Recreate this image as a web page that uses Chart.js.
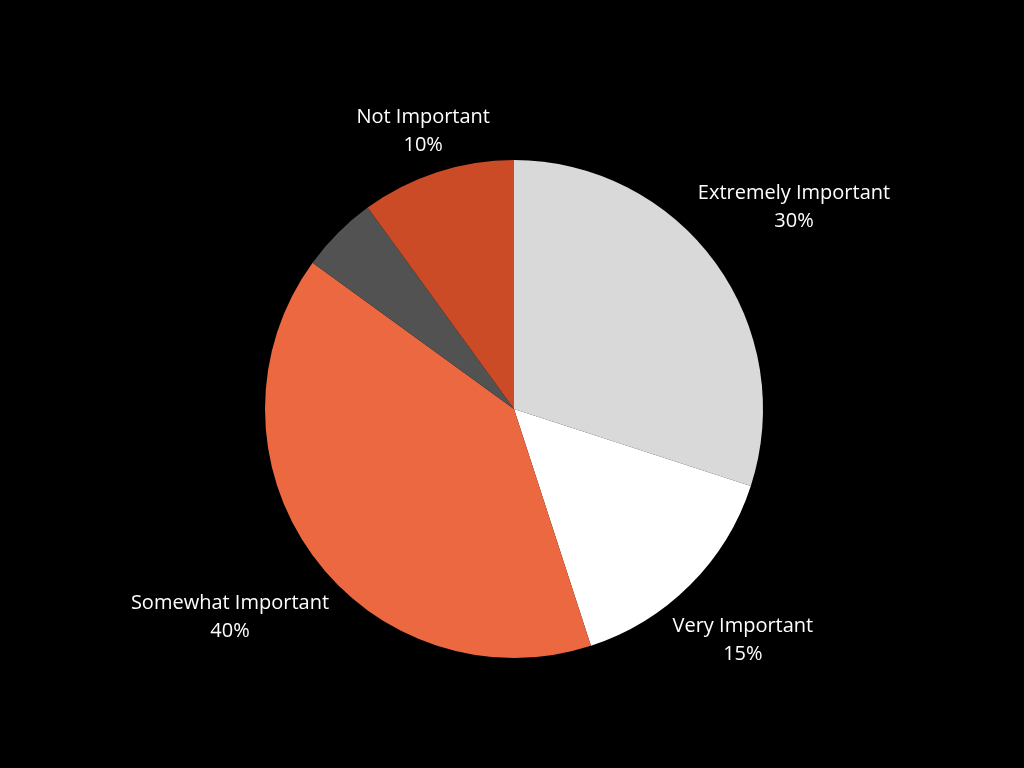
<!DOCTYPE html>
<html>
<head>
<meta charset="utf-8">
<script src="https://cdn.jsdelivr.net/npm/chart.js@4"></script>
<style>
  html, body { margin: 0; padding: 0; background: #000; }
  #wrap { width: 1024px; height: 768px; }
</style>
</head>
<body>
<div id="wrap"><canvas id="myChart" width="1024" height="768"></canvas></div>
<script>
const categories = ["Extremely Important", "Very Important", "Somewhat Important", "", "Not Important"];
const values = [30, 15, 40, 5, 10];
const colors = ["#d9d9d9", "#ffffff", "#ec6840", "#525252", "#cc4b27"];
// how far out each label sits, as a multiple of the pie radius
const labelDist = [1.39, 1.30, 1.41, 0, 1.18];

const outsideLabels = {
  id: "outsideLabels",
  afterDraw(chart) {
    const c = chart.ctx;
    const meta = chart.getDatasetMeta(0);
    const total = values.reduce((a, b) => a + b, 0);
    c.save();
    c.fillStyle = "#ffffff";
    c.font = "20px 'Open Sans'";
    c.textAlign = "center";
    c.textBaseline = "middle";
    meta.data.forEach((arc, i) => {
      if (!categories[i]) return;
      const mid = (arc.startAngle + arc.endAngle) / 2;
      const d = arc.outerRadius * labelDist[i];
      const x = arc.x + Math.cos(mid) * d;
      const y = arc.y + Math.sin(mid) * d;
      const pct = Math.round(values[i] / total * 100) + "%";
      c.fillText(categories[i], x, y - 12);
      c.fillText(pct, x, y + 16);
    });
    c.restore();
  }
};

const ctx = document.getElementById("myChart");

const myChart = new Chart(ctx, {
  type: "pie",
  data: {
    labels: categories,
    datasets: [
      {
        data: values,
        backgroundColor: colors,
        borderWidth: 0,
      },
    ],
  },
  options: {
    responsive: false,
    animation: false,
    plugins: {
      legend: false,
      tooltip: false,
    },
    layout: {
      padding: { left: 265, right: 261, top: 160, bottom: 110 },
    },
  },
  plugins: [outsideLabels],
});
</script>
</body>
</html>
